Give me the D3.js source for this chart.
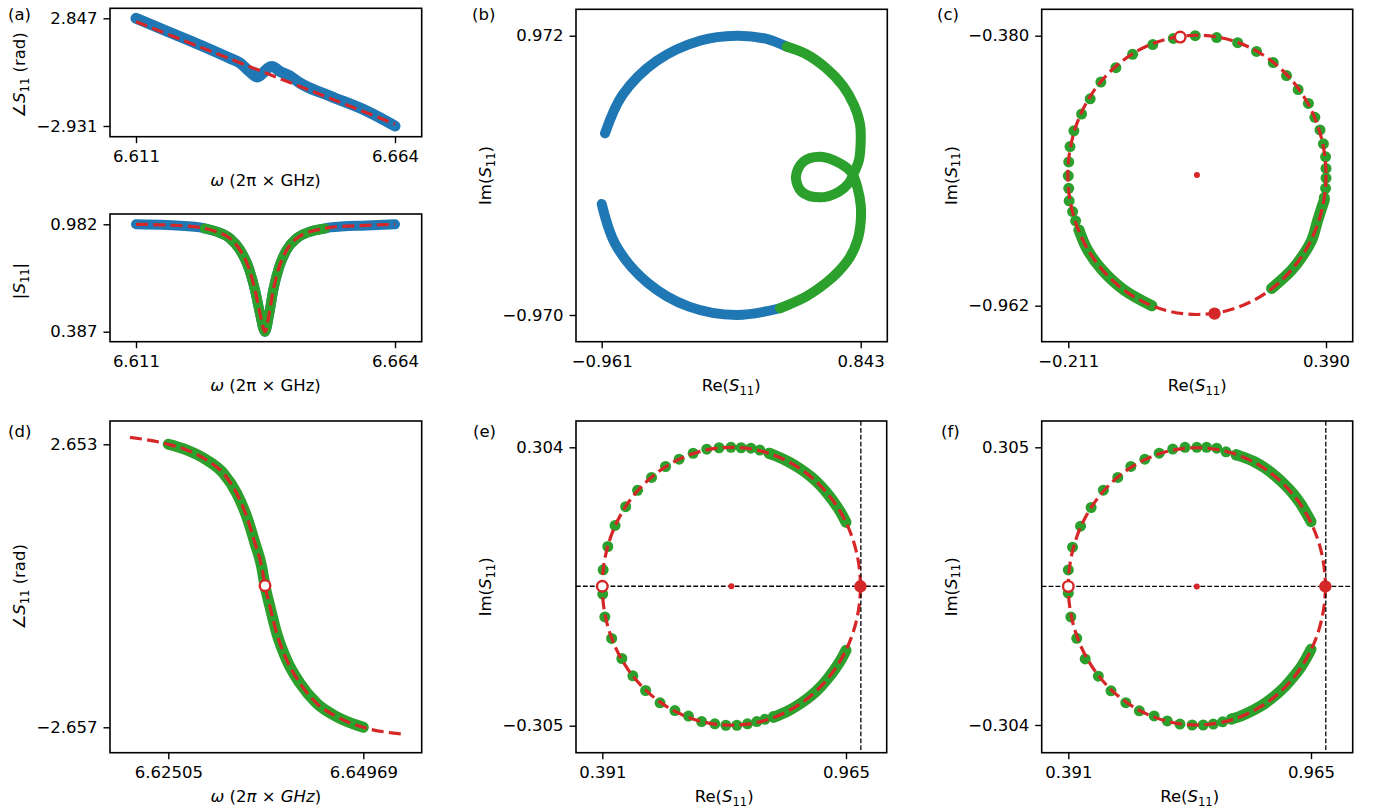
<!DOCTYPE html>
<html>
<head>
<meta charset="utf-8">
<script src="https://cdn.jsdelivr.net/npm/d3@7"></script>
<style>
  html, body { margin: 0; padding: 0; background: #fff; }
  svg { display: block; font-family: 'DejaVu Sans', sans-serif; }
</style>
</head>
<body>
<svg id="chart" width="1376" height="810"></svg>
<script>
// ---- (a) phase and magnitude vs frequency ----
const aXTicks = [6.611, 6.664];
const aPhaseTicks = [2.847, -2.931];
const aMagTicks = [0.982, 0.387];
const phaseFreq = [6.611, 6.61796, 6.62409, 6.63023, 6.63228, 6.63432, 6.63576, 6.63698, 6.63801, 6.63883, 6.64046, 6.64251, 6.64455, 6.65069, 6.65820, 6.664];
const phaseVal = [2.847, 2.085, 1.415, 0.701, 0.449, -0.034, -0.302, -0.088, 0.181, 0.261, -0.007, -0.249, -0.624, -1.322, -2.126, -2.931];
const phaseFitFreq = [6.611, 6.664];
const phaseFitVal = [2.665, -2.824];
const magFreq = [6.611, 6.61728, 6.62409, 6.62505, 6.62751, 6.63023, 6.63228, 6.63398, 6.63535, 6.63637, 6.63739, 6.63827, 6.63909, 6.64032, 6.64183, 6.64388, 6.64660, 6.64969, 6.65069, 6.65820, 6.664];
const magVal = [0.982, 0.978, 0.965, 0.959, 0.941, 0.904, 0.840, 0.747, 0.618, 0.489, 0.387, 0.489, 0.618, 0.747, 0.840, 0.904, 0.941, 0.959, 0.965, 0.976, 0.982];
const fitWindow = [6.62505, 6.64969];

// ---- (b) full trace in the complex plane ----
const bXTicks = [-0.961, 0.843];
const bYTicks = [0.972, -0.970];
const bUpperRe = [-0.938, -0.817, -0.578, -0.272, -0.021, 0.181, 0.328];
const bUpperIm = [0.293, 0.559, 0.797, 0.939, 0.972, 0.951, 0.896];
const bGreenRe = [0.328, 0.465, 0.601, 0.720, 0.796, 0.838, 0.843, 0.831, 0.796, 0.761, 0.687, 0.559, 0.432, 0.392, 0.443, 0.559, 0.699, 0.782, 0.821, 0.843, 0.843, 0.821, 0.768, 0.685, 0.601, 0.465, 0.281];
const bGreenIm = [0.896, 0.843, 0.747, 0.622, 0.490, 0.358, 0.233, 0.108, 0.017, -0.052, -0.115, -0.152, -0.113, -0.008, 0.096, 0.131, 0.085, 0.017, -0.087, -0.205, -0.323, -0.448, -0.567, -0.671, -0.747, -0.840, -0.923];
const bLowerRe = [0.281, -0.021, -0.353, -0.645, -0.862, -0.961];
const bLowerIm = [-0.923, -0.970, -0.912, -0.743, -0.485, -0.198];

// ---- (c) resonance circle after delay removal ----
const cXTicks = [-0.211, 0.390];
const cYTicks = [-0.380, -0.962];
const cDotRe = [-0.186, -0.194, -0.201, -0.209, -0.210, -0.211, -0.210, -0.207, -0.198, -0.180, -0.160, -0.135, -0.100, -0.061, -0.014, 0.034, 0.085, 0.135, 0.184, 0.228, 0.267, 0.298, 0.325, 0.349, 0.364, 0.376, 0.384, 0.389, 0.390, 0.390, 0.389, 0.386];
const cDotIm = [-0.799, -0.779, -0.759, -0.736, -0.709, -0.682, -0.652, -0.619, -0.585, -0.549, -0.516, -0.480, -0.449, -0.420, -0.399, -0.386, -0.380, -0.384, -0.395, -0.414, -0.438, -0.466, -0.496, -0.526, -0.556, -0.583, -0.613, -0.641, -0.666, -0.687, -0.709, -0.729];
const cArcLeftRe = [-0.186, -0.166, -0.132, -0.081, -0.016];
const cArcLeftIm = [-0.799, -0.842, -0.885, -0.928, -0.962];
const cArcRightRe = [0.386, 0.371, 0.357, 0.335, 0.310, 0.263];
const cArcRightIm = [-0.734, -0.777, -0.820, -0.855, -0.885, -0.925];
const cCenter = [0.089, -0.680];
const cRadius = 0.301;
const cOpen = [0.050, -0.383];
const cFilled = [0.130, -0.979];

// ---- (d) phase of the fitted window ----
const dXTicks = [6.62505, 6.64969];
const dYTicks = [2.653, -2.657];
const dFreq = [6.62505, 6.62738, 6.62990, 6.63200, 6.63369, 6.63496, 6.63601, 6.63685, 6.63727, 6.63790, 6.63875, 6.64001, 6.64169, 6.64380, 6.64633, 6.64969];
const dPhase = [2.653, 2.546, 2.358, 2.109, 1.734, 1.295, 0.795, 0.356, 0.0, -0.394, -0.893, -1.394, -1.831, -2.207, -2.458, -2.657];
const dFitFreq = [6.62021, 6.62505, 6.62738, 6.62990, 6.63200, 6.63369, 6.63496, 6.63601, 6.63685, 6.63727, 6.63790, 6.63875, 6.64001, 6.64169, 6.64380, 6.64633, 6.64969, 6.65454];
const dFitPhase = [2.784, 2.653, 2.546, 2.358, 2.109, 1.734, 1.295, 0.795, 0.356, 0.0, -0.394, -0.893, -1.394, -1.831, -2.207, -2.458, -2.657, -2.783];
const dOpen = [6.63727, 0.0];

// ---- (e) normalised circle ----
const eXTicks = [0.391, 0.965];
const eYTicks = [0.304, -0.305];
const eDotRe = [0.393, 0.404, 0.421, 0.446, 0.474, 0.507, 0.540, 0.572, 0.605, 0.637, 0.666, 0.694, 0.718, 0.741, 0.762, 0.784,
  0.392, 0.397, 0.413, 0.437, 0.463, 0.493, 0.527, 0.562, 0.594, 0.625, 0.656, 0.682, 0.708, 0.733, 0.755, 0.774, 0.794];
const eDotIm = [0.036, 0.087, 0.133, 0.174, 0.210, 0.238, 0.262, 0.278, 0.291, 0.300, 0.303, 0.304, 0.303, 0.302, 0.298, 0.291,
  -0.017, -0.067, -0.114, -0.158, -0.196, -0.228, -0.255, -0.272, -0.284, -0.296, -0.301, -0.304, -0.304, -0.301, -0.296, -0.291, -0.285];
const eArcUpRe = [0.784, 0.798, 0.830, 0.857, 0.882, 0.904, 0.922, 0.939, 0.953, 0.965];
const eArcUpIm = [0.291, 0.286, 0.272, 0.257, 0.240, 0.221, 0.202, 0.181, 0.161, 0.140];
const eArcLowRe = [0.794, 0.830, 0.857, 0.882, 0.904, 0.922, 0.939, 0.953, 0.965];
const eArcLowIm = [-0.287, -0.272, -0.257, -0.240, -0.221, -0.202, -0.181, -0.161, -0.140];
const eCenter = [0.695, 0.0];
const eRadius = 0.304;
const eOpen = [0.391, 0.0];
const eFilled = [0.999, 0.0];

// ---- (f) normalised circle, second fit ----
const fXTicks = [0.391, 0.965];
const fYTicks = [0.305, -0.304];
const fDotRe = [0.391, 0.401, 0.420, 0.445, 0.474, 0.508, 0.539, 0.572, 0.606, 0.638, 0.667, 0.695, 0.718, 0.742, 0.764, 0.788,
  0.391, 0.397, 0.411, 0.431, 0.462, 0.492, 0.527, 0.559, 0.594, 0.625, 0.655, 0.684, 0.710, 0.734, 0.756, 0.777];
const fDotIm = [0.036, 0.086, 0.132, 0.173, 0.211, 0.239, 0.263, 0.279, 0.292, 0.301, 0.305, 0.305, 0.305, 0.303, 0.295, 0.288,
  -0.015, -0.067, -0.114, -0.159, -0.197, -0.229, -0.255, -0.273, -0.284, -0.295, -0.302, -0.304, -0.304, -0.302, -0.297, -0.291];
const fArcUpRe = [0.788, 0.830, 0.857, 0.882, 0.904, 0.922, 0.939, 0.953, 0.965];
const fArcUpIm = [0.289, 0.274, 0.259, 0.241, 0.222, 0.204, 0.183, 0.162, 0.142];
const fArcLowRe = [0.777, 0.800, 0.830, 0.857, 0.882, 0.904, 0.922, 0.939, 0.953, 0.965];
const fArcLowIm = [-0.291, -0.284, -0.271, -0.256, -0.238, -0.219, -0.200, -0.180, -0.159, -0.138];
const fCenter = [0.695, 0.0];
const fRadius = 0.304;
const fOpen = [0.391, 0.0];
const fFilled = [0.999, 0.0];

const refRe = 1.0;
const refIm = 0.0;

const FONT = 16.5;
const BLUE = '#1f77b4', GREEN = '#2ca02c', RED = '#d62728';
const svg = d3.select('#chart');

const omegaPlain = [{ t: 'ω', it: true }, { t: ' (2π × GHz)' }];
const omegaMath = [{ t: 'ω', it: true }, { t: ' (2' }, { t: 'π', it: true }, { t: ' × ' }, { t: 'GHz', it: true }, { t: ')' }];
const phaseLabel = [{ t: '∠' }, { t: 'S', it: true }, { t: '11', sub: true }, { t: ' (rad)' }];
const magLabel = [{ t: '|' }, { t: 'S', it: true }, { t: '11', sub: true }, { t: '|' }];
const reLabel = [{ t: 'Re(' }, { t: 'S', it: true }, { t: '11', sub: true }, { t: ')' }];
const imLabel = [{ t: 'Im(' }, { t: 'S', it: true }, { t: '11', sub: true }, { t: ')' }];

function richText(sel, parts) {
    let shift = 0;
    parts.forEach(p => {
        const want = p.sub ? FONT * 0.22 : 0;
        const t = sel.append('tspan').attr('dy', want - shift).text(p.t);
        shift = want;
        if (p.it) t.attr('font-style', 'italic');
        if (p.sub) t.attr('font-size', FONT * 0.7);
    });
}

function makePanel(cfg) {
    const f = cfg.frame;
    const x = d3.scaleLinear().domain(cfg.xTicks).range(cfg.xPx);
    const y = d3.scaleLinear().domain(cfg.yTicks).range(cfg.yPx);
    const clipId = 'clip-' + cfg.id;
    svg.append('clipPath').attr('id', clipId).append('rect')
        .attr('x', f[0]).attr('y', f[1]).attr('width', f[2] - f[0]).attr('height', f[3] - f[1]);
    const plot = svg.append('g').attr('clip-path', `url(#${clipId})`);
    const axes = svg.append('g');

    axes.append('rect')
        .attr('x', f[0]).attr('y', f[1]).attr('width', f[2] - f[0]).attr('height', f[3] - f[1])
        .attr('fill', 'none').attr('stroke', '#000').attr('stroke-width', 1.6);

    const styleAxis = g => {
        g.select('.domain').remove();
        g.attr('font-size', FONT).attr('font-family', "'DejaVu Sans', sans-serif");
        g.selectAll('line').attr('stroke', '#000').attr('stroke-width', 1.4);
        g.selectAll('text').attr('fill', '#000');
    };
    axes.append('g').attr('transform', `translate(0,${f[3]})`)
        .call(d3.axisBottom(x).tickValues(cfg.xTicks).tickFormat(d3.format(cfg.xFmt)).tickSize(6.5).tickPadding(7))
        .call(styleAxis);
    axes.append('g').attr('transform', `translate(${f[0]},0)`)
        .call(d3.axisLeft(y).tickValues(cfg.yTicks).tickFormat(d3.format(cfg.yFmt)).tickSize(6.5).tickPadding(6))
        .call(styleAxis);

    const xl = axes.append('text')
        .attr('x', (cfg.xPx[0] + cfg.xPx[1]) / 2).attr('y', f[3] + 49.5)
        .attr('text-anchor', 'middle').attr('font-size', FONT);
    richText(xl, cfg.xLabel);
    const yc = cfg.yLabelAt || (f[1] + f[3]) / 2;
    const yl = axes.append('text')
        .attr('transform', `translate(${f[0] - 85},${yc}) rotate(-90)`)
        .attr('text-anchor', 'middle').attr('font-size', FONT);
    richText(yl, cfg.yLabel);

    if (cfg.tag) {
        axes.append('text').attr('x', cfg.tagPos[0]).attr('y', cfg.tagPos[1])
            .attr('font-size', FONT).text(`(${cfg.tag})`);
    }

    return { x, y, plot, frame: f };
}

function band(p, xs, ys, color, w, curve) {
    p.plot.append('path')
        .datum(d3.zip(xs, ys))
        .attr('d', d3.line().x(d => p.x(d[0])).y(d => p.y(d[1])).curve(curve))
        .attr('fill', 'none').attr('stroke', color).attr('stroke-width', w)
        .attr('stroke-linecap', 'round').attr('stroke-linejoin', 'round');
}

function fitLine(p, xs, ys, curve) {
    p.plot.append('path')
        .datum(d3.zip(xs, ys))
        .attr('d', d3.line().x(d => p.x(d[0])).y(d => p.y(d[1])).curve(curve))
        .attr('fill', 'none').attr('stroke', RED).attr('stroke-width', 3.2)
        .attr('stroke-dasharray', '12,5.3');
}

function dots(p, xs, ys, color, r) {
    p.plot.append('g').selectAll('circle')
        .data(d3.zip(xs, ys))
        .join('circle')
        .attr('cx', d => p.x(d[0])).attr('cy', d => p.y(d[1])).attr('r', r)
        .attr('fill', color);
}

function fitCircle(p, c, r) {
    p.plot.append('ellipse')
        .attr('cx', p.x(c[0])).attr('cy', p.y(c[1]))
        .attr('rx', Math.abs(p.x(c[0] + r) - p.x(c[0])))
        .attr('ry', Math.abs(p.y(c[1] + r) - p.y(c[1])))
        .attr('fill', 'none').attr('stroke', RED).attr('stroke-width', 3.2)
        .attr('stroke-dasharray', '12,5.3');
}

function refLines(p) {
    const f = p.frame;
    p.plot.append('line')
        .attr('x1', f[0]).attr('x2', f[2]).attr('y1', p.y(refIm)).attr('y2', p.y(refIm))
        .attr('stroke', '#000').attr('stroke-width', 1.3).attr('stroke-dasharray', '4.8,2.1');
    p.plot.append('line')
        .attr('x1', p.x(refRe)).attr('x2', p.x(refRe)).attr('y1', f[1]).attr('y2', f[3])
        .attr('stroke', '#000').attr('stroke-width', 1.3).attr('stroke-dasharray', '4.8,2.1');
}

function marker(p, pt, kind) {
    const c = p.plot.append('circle').attr('cx', p.x(pt[0])).attr('cy', p.y(pt[1]));
    if (kind === 'open') c.attr('r', 5.3).attr('fill', '#fff').attr('stroke', RED).attr('stroke-width', 2.4);
    else if (kind === 'full') c.attr('r', 6.2).attr('fill', RED);
    else c.attr('r', 3).attr('fill', RED);
}

// (a) phase
const pa = makePanel({
    id: 'a1', tag: 'a', frame: [110, 8.3, 421.7, 136.7], tagPos: [8, 20],
    xTicks: aXTicks, xPx: [136, 395], yTicks: aPhaseTicks, yPx: [18.3, 126],
    xFmt: '.3f', yFmt: '.3f', xLabel: omegaPlain, yLabel: phaseLabel, yLabelAt: 75
});
band(pa, phaseFreq, phaseVal, BLUE, 11, d3.curveMonotoneX);
fitLine(pa, phaseFitFreq, phaseFitVal, d3.curveLinear);

// (a) magnitude
const pm = makePanel({
    id: 'a2', frame: [110, 214, 421.7, 341.7],
    xTicks: aXTicks, xPx: [136, 395], yTicks: aMagTicks, yPx: [224.3, 331.7],
    xFmt: '.3f', yFmt: '.3f', xLabel: omegaPlain, yLabel: magLabel, yLabelAt: 281
});
band(pm, magFreq, magVal, BLUE, 10, d3.curveMonotoneX);
const inWin = magFreq.map(v => v >= fitWindow[0] && v <= fitWindow[1]);
band(pm, magFreq.filter((v, i) => inWin[i]), magVal.filter((v, i) => inWin[i]), GREEN, 10, d3.curveMonotoneX);
fitLine(pm, magFreq, magVal, d3.curveMonotoneX);

// (b)
const pb = makePanel({
    id: 'b', tag: 'b', frame: [576, 9.3, 887.3, 341.7], tagPos: [472, 20],
    xTicks: bXTicks, xPx: [601.7, 860.7], yTicks: bYTicks, yPx: [35.7, 315],
    xFmt: '.3f', yFmt: '.3f', xLabel: reLabel, yLabel: imLabel
});
band(pb, bUpperRe, bUpperIm, BLUE, 10, d3.curveCatmullRom);
band(pb, bLowerRe, bLowerIm, BLUE, 10, d3.curveCatmullRom);
band(pb, bGreenRe, bGreenIm, GREEN, 10, d3.curveCatmullRom);

// (c)
const pc = makePanel({
    id: 'c', tag: 'c', frame: [1041.7, 9.3, 1352.7, 341.7], tagPos: [937, 20],
    xTicks: cXTicks, xPx: [1068.3, 1326], yTicks: cYTicks, yPx: [35.7, 305.7],
    xFmt: '.3f', yFmt: '.3f', xLabel: reLabel, yLabel: imLabel
});
band(pc, cArcLeftRe, cArcLeftIm, GREEN, 11, d3.curveCatmullRom);
band(pc, cArcRightRe, cArcRightIm, GREEN, 11, d3.curveCatmullRom);
dots(pc, cDotRe, cDotIm, GREEN, 5.5);
fitCircle(pc, cCenter, cRadius);
marker(pc, cCenter, 'center');
marker(pc, cOpen, 'open');
marker(pc, cFilled, 'full');

// (d)
const pd = makePanel({
    id: 'd', tag: 'd', frame: [110, 421, 421.7, 752.7], tagPos: [8, 437],
    xTicks: dXTicks, xPx: [168.3, 363.3], yTicks: dYTicks, yPx: [444.3, 727.3],
    xFmt: '.5f', yFmt: '.3f', xLabel: omegaMath, yLabel: phaseLabel
});
band(pd, dFreq, dPhase, GREEN, 11, d3.curveMonotoneX);
fitLine(pd, dFitFreq, dFitPhase, d3.curveMonotoneX);
marker(pd, dOpen, 'open');

// (e)
const pe = makePanel({
    id: 'e', tag: 'e', frame: [576, 421, 886.7, 752.7], tagPos: [473, 437],
    xTicks: eXTicks, xPx: [602.3, 846], yTicks: eYTicks, yPx: [447.3, 725.7],
    xFmt: '.3f', yFmt: '.3f', xLabel: reLabel, yLabel: imLabel
});
band(pe, eArcUpRe, eArcUpIm, GREEN, 11, d3.curveCatmullRom);
band(pe, eArcLowRe, eArcLowIm, GREEN, 11, d3.curveCatmullRom);
dots(pe, eDotRe, eDotIm, GREEN, 5.5);
fitCircle(pe, eCenter, eRadius);
refLines(pe);
marker(pe, eCenter, 'center');
marker(pe, eOpen, 'open');
marker(pe, eFilled, 'full');

// (f)
const pf = makePanel({
    id: 'f', tag: 'f', frame: [1041.7, 421, 1352.7, 752.7], tagPos: [941, 437],
    xTicks: fXTicks, xPx: [1068.3, 1311], yTicks: fYTicks, yPx: [447.3, 725],
    xFmt: '.3f', yFmt: '.3f', xLabel: reLabel, yLabel: imLabel
});
band(pf, fArcUpRe, fArcUpIm, GREEN, 11, d3.curveCatmullRom);
band(pf, fArcLowRe, fArcLowIm, GREEN, 11, d3.curveCatmullRom);
dots(pf, fDotRe, fDotIm, GREEN, 5.5);
fitCircle(pf, fCenter, fRadius);
refLines(pf);
marker(pf, fCenter, 'center');
marker(pf, fOpen, 'open');
marker(pf, fFilled, 'full');
</script>
</body>
</html>
